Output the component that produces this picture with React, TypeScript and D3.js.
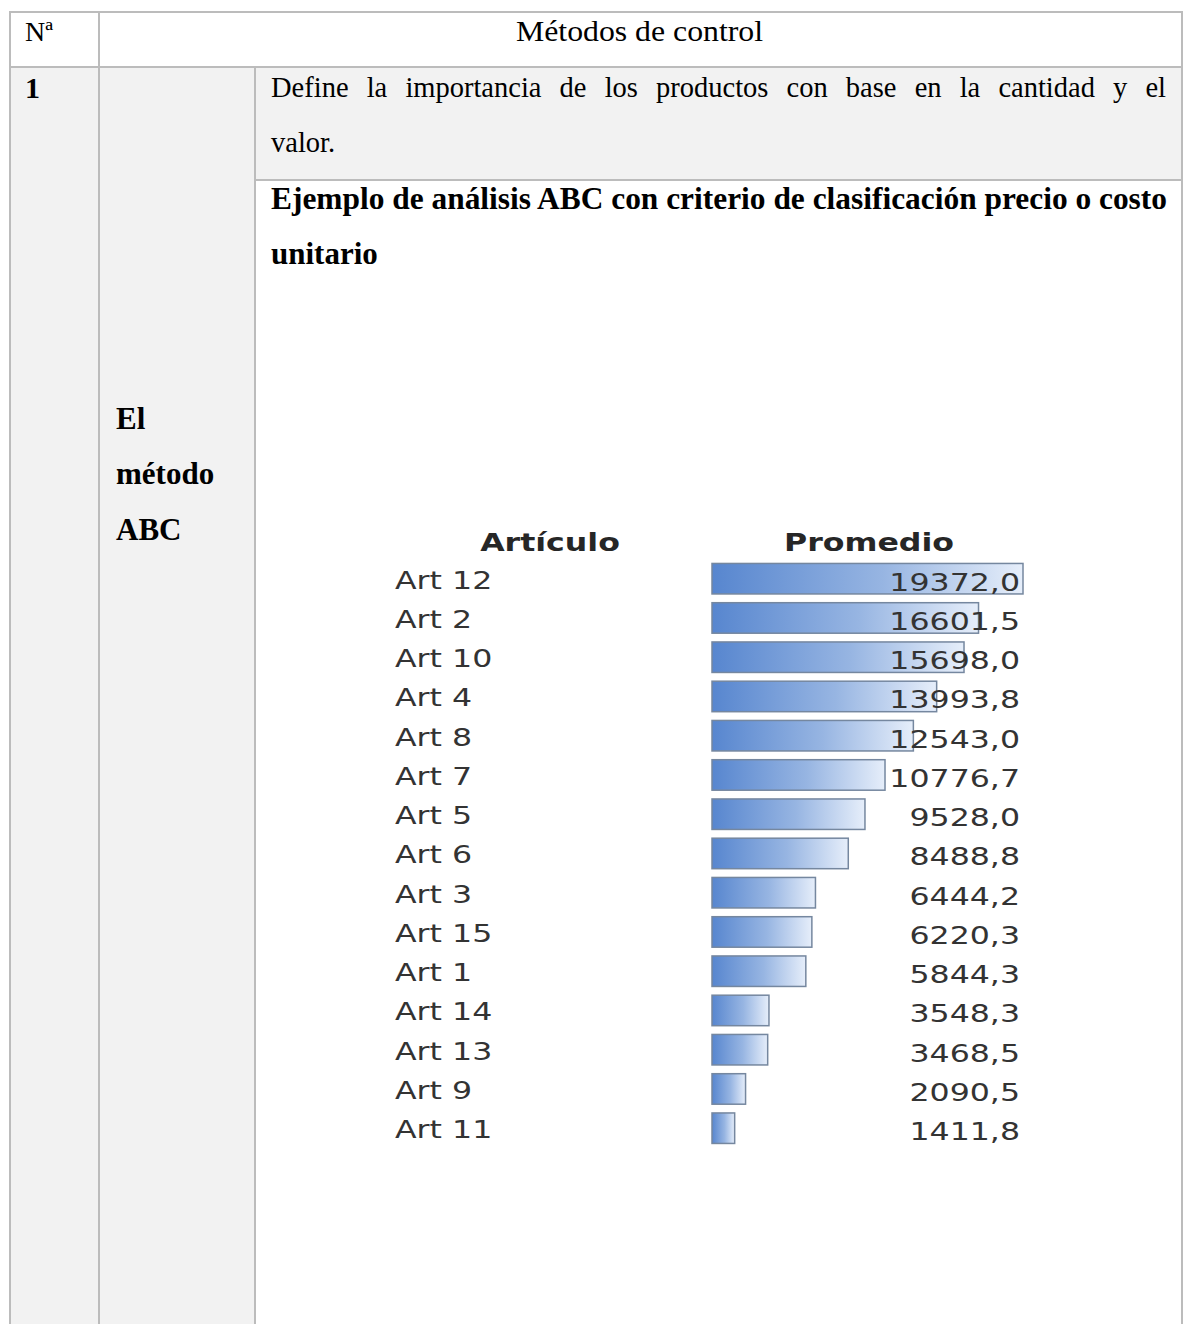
import React, { useLayoutEffect, useRef } from "react";
import * as d3 from "d3";

const articles = ["Art 12", "Art 2", "Art 10", "Art 4", "Art 8", "Art 7", "Art 5", "Art 6", "Art 3", "Art 15", "Art 1", "Art 14", "Art 13", "Art 9", "Art 11"];
const averages = [19372.0, 16601.5, 15698.0, 13993.8, 12543.0, 10776.7, 9528.0, 8488.8, 6444.2, 6220.3, 5844.3, 3548.3, 3468.5, 2090.5, 1411.8];
const headers = ["Artículo", "Promedio"];

const W = 1187;
const H = 1324;
const GRID = "#bcbcbc";
const GRAY = "#f2f2f2";
const SERIF = "'Liberation Serif', 'Times New Roman', serif";
const SANS = "'DejaVu Sans', Verdana, sans-serif";
const SX = 1.29;

const fmt = (v: number) => v.toFixed(1).replace(".", ",");

function Justified(props: { x: number; y: number; width: number; text: string; fontSize: number; fontWeight?: string }) {
  const ref = useRef<SVGTextElement>(null);
  useLayoutEffect(() => {
    const el = ref.current;
    if (!el) return;
    el.setAttribute("word-spacing", "0");
    const len = el.getComputedTextLength();
    const spaces = (props.text.match(/ /g) || []).length;
    if (spaces > 0) el.setAttribute("word-spacing", String((props.width - len) / spaces));
  }, [props.text, props.width]);
  return (
    <text ref={ref} x={props.x} y={props.y} fontSize={props.fontSize} fontWeight={props.fontWeight}>
      {props.text}
    </text>
  );
}

export default function App() {
  const x = d3.scaleLinear().domain([0, d3.max(averages) as number]).range([0, 311]);
  const y = d3.scalePoint<string>().domain(articles).range([578.7, 578.7 + 14 * 39.25]);
  const barH = 30.5;
  const x0 = 712;

  return (
    <svg width={W} height={H} style={{ position: "absolute", left: 0, top: 0 }}>
      <defs>
        <linearGradient id="barGrad" x1="0" x2="1" y1="0" y2="0">
          <stop offset="0" stopColor="#5786cf" />
          <stop offset="0.55" stopColor="#97b5e2" />
          <stop offset="1" stopColor="#e6eefa" />
        </linearGradient>
      </defs>
      <rect x={0} y={0} width={W} height={H} fill="#ffffff" />
      <rect x={10} y={67} width={245} height={H - 67} fill={GRAY} />
      <rect x={255} y={67} width={927} height={113} fill={GRAY} />
      <g stroke={GRID} strokeWidth={2}>
        <line x1={10} y1={12} x2={1182} y2={12} />
        <line x1={10} y1={67} x2={1182} y2={67} />
        <line x1={255} y1={180} x2={1182} y2={180} />
        <line x1={10} y1={11} x2={10} y2={H} />
        <line x1={99} y1={12} x2={99} y2={H} />
        <line x1={255} y1={67} x2={255} y2={H} />
        <line x1={1182} y1={11} x2={1182} y2={H} />
      </g>
      <g fontFamily={SERIF} fill="#000">
        <text x={25} y={41} fontSize={28}>Nª</text>
        <text x={639.5} y={41} fontSize={29} textAnchor="middle" textLength={247} lengthAdjust="spacingAndGlyphs">Métodos de control</text>
        <text x={25} y={98} fontSize={30} fontWeight="bold">1</text>
        <Justified x={271} y={97} width={895} fontSize={28.5} text="Define la importancia de los productos con base en la cantidad y el" />
        <text x={271} y={152} fontSize={28.5}>valor.</text>
        <text x={271} y={209} fontSize={30.5} fontWeight="bold" textLength={896} lengthAdjust="spacingAndGlyphs">Ejemplo de análisis ABC con criterio de clasificación precio o costo</text>
        <text x={271} y={264} fontSize={31} fontWeight="bold">unitario</text>
        <text x={116} y={429} fontSize={31} fontWeight="bold">El</text>
        <text x={116} y={484} fontSize={31} fontWeight="bold">método</text>
        <text x={116} y={540} fontSize={31} fontWeight="bold">ABC</text>
      </g>
      <g fontFamily={SANS} fontSize={24.5}>
        <text transform={`translate(550,551) scale(${SX},1)`} textAnchor="middle" fontWeight="bold" fill="#262626">{headers[0]}</text>
        <text transform={`translate(869,551) scale(${SX},1)`} textAnchor="middle" fontWeight="bold" fill="#262626">{headers[1]}</text>
        {articles.map((a, i) => {
          const cy = y(a) as number;
          return (
            <g key={a}>
              <rect x={x0} y={cy - barH / 2} width={x(averages[i])} height={barH} fill="url(#barGrad)" stroke="#75879f" strokeWidth={1.5} />
              <text transform={`translate(395,${cy + 10}) scale(${SX},1)`} fill="#333">{a}</text>
              <text transform={`translate(1020,${cy + 12}) scale(${SX},1)`} textAnchor="end" fill="#333">{fmt(averages[i])}</text>
            </g>
          );
        })}
      </g>
    </svg>
  );
}
